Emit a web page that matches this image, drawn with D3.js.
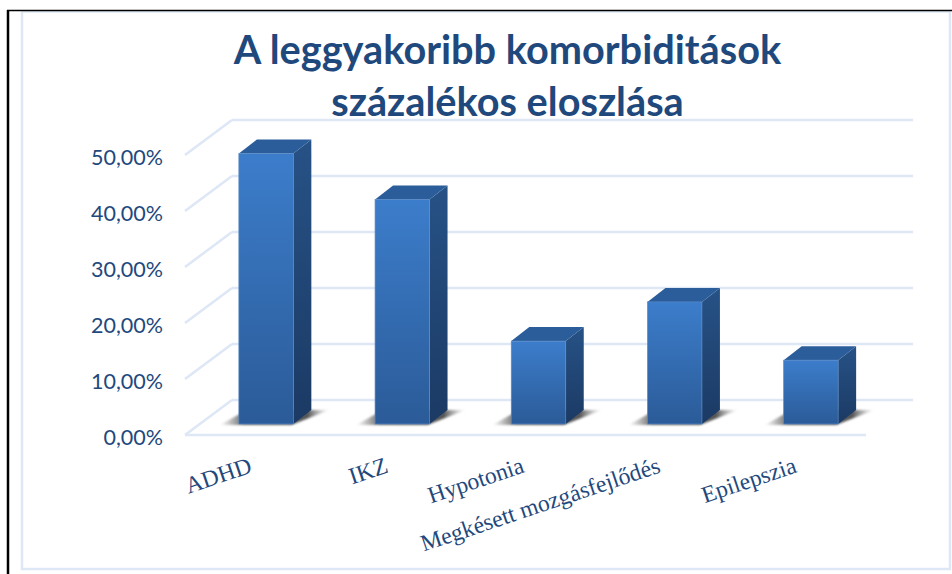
<!DOCTYPE html>
<html>
<head>
<meta charset="utf-8">
<script src="https://cdn.jsdelivr.net/npm/d3@7"></script>
<style>
  html, body { margin: 0; padding: 0; background: #fff; overflow: hidden; }
  svg { display: block; }
</style>
</head>
<body>
<div id="chart"></div>
<script>
const categories = ["ADHD", "IKZ", "Hypotonia", "Megkésett mozgásfejlődés", "Epilepszia"];
const percentages = [48.3, 40.1, 14.8, 21.8, 11.4];
const tick_values = [0, 10, 20, 30, 40, 50];
const title_lines = ["A leggyakoribb komorbiditások", "százalékos eloszlása"];

const width = 952, height = 574;
const text_color = "#1f497d", grid_color = "#dde7f5";
// 3d look: how far the back wall sits from the floor's front edge, and the bars from it
const wall = { dx: 47, dy: -35 };
const bar_shift = { dx: 13, dy: -11 };
const bar_depth = { dx: 18, dy: -14 };

const svg = d3.select("#chart").append("svg").attr("width", width).attr("height", height);

const xScale = d3.scaleBand().domain(categories).range([185, 866]).paddingInner(0.6).paddingOuter(0.3);
const yScale = d3.scaleLinear().domain([0, 50]).range([435, 155]);

const defs = svg.append("defs");
function addGradient(id, top, bottom) {
    const g = defs.append("linearGradient").attr("id", id).attr("x1", 0).attr("y1", 0).attr("x2", 0).attr("y2", 1);
    g.append("stop").attr("offset", "0%").attr("stop-color", top);
    g.append("stop").attr("offset", "100%").attr("stop-color", bottom);
}
addGradient("front", "#3c7dcb", "#2b5b98");
addGradient("side", "#275286", "#1b3a64");
const shadow = defs.append("linearGradient").attr("id", "shadow").attr("x1", 0).attr("y1", 0).attr("x2", 1).attr("y2", 0);
shadow.append("stop").attr("offset", "0%").attr("stop-color", "#777").attr("stop-opacity", 0);
shadow.append("stop").attr("offset", "22%").attr("stop-color", "#666");
shadow.append("stop").attr("offset", "80%").attr("stop-color", "#555");
shadow.append("stop").attr("offset", "100%").attr("stop-color", "#999").attr("stop-opacity", 0);
defs.append("filter").attr("id", "blur").attr("x", "-20%").attr("y", "-50%").attr("width", "140%").attr("height", "200%")
    .append("feGaussianBlur").attr("stdDeviation", 1.2);

// outer frames
svg.append("rect").attr("x", 22).attr("y", 11.5).attr("width", 928).attr("height", 557.5)
    .attr("fill", "#fff").attr("stroke", grid_color).attr("stroke-width", 2.5);
svg.append("line").attr("x1", 8).attr("x2", 8).attr("y1", 10).attr("y2", height).attr("stroke", "#000").attr("stroke-width", 2.5);
svg.append("line").attr("x1", 7).attr("x2", width).attr("y1", 10.5).attr("y2", 10.5).attr("stroke", "#000").attr("stroke-width", 1.5);

// title
svg.append("g").selectAll("text").data(title_lines).enter().append("text")
    .attr("x", 507.5)
    .attr("y", (d, i) => 64 + i * 52)
    .attr("text-anchor", "middle")
    .attr("font-family", "Lato, sans-serif")
    .attr("font-weight", "bold")
    .attr("font-size", 39.7)
    .attr("fill", text_color)
    .text(d => d);

// walls and floor
const grid = svg.append("g").attr("fill", "none").attr("stroke", grid_color).attr("stroke-width", 2.5);
const [x0, x1] = xScale.range();
grid.selectAll(".back").data(tick_values).enter().append("line").attr("class", "back")
    .attr("x1", x0 + wall.dx).attr("x2", x1 + wall.dx)
    .attr("y1", d => yScale(d) + wall.dy).attr("y2", d => yScale(d) + wall.dy);
grid.selectAll(".slant").data(tick_values).enter().append("line").attr("class", "slant")
    .attr("x1", x0).attr("x2", x0 + wall.dx)
    .attr("y1", d => yScale(d)).attr("y2", d => yScale(d) + wall.dy);
grid.append("line").attr("x1", x0).attr("x2", x1).attr("y1", yScale(0)).attr("y2", yScale(0));

// bars
const bars = svg.append("g").selectAll("g").data(categories).enter().append("g");
const bw = xScale.bandwidth();
const left = d => xScale(d) + bar_shift.dx;
const base = bar_shift.dy + yScale(0);
const top_y = (d, i) => yScale(percentages[i]) + bar_shift.dy;

bars.append("path")
    .attr("d", d => `M${left(d) - 19},${base + 1} L${left(d) + 8},${base + bar_depth.dy}
        L${left(d) + bw + bar_depth.dx + 18},${base + bar_depth.dy} L${left(d) + bw - 2},${base + 1} Z`)
    .attr("fill", "url(#shadow)")
    .attr("filter", "url(#blur)");
bars.append("path")
    .attr("d", (d, i) => `M${left(d) + bw},${top_y(d, i)} l${bar_depth.dx},${bar_depth.dy} V${base + bar_depth.dy} L${left(d) + bw},${base} Z`)
    .attr("fill", "url(#side)");
bars.append("path")
    .attr("d", (d, i) => `M${left(d)},${top_y(d, i)} l${bar_depth.dx},${bar_depth.dy} h${bw} l${-bar_depth.dx},${-bar_depth.dy} Z`)
    .attr("fill", "#2b5d9b");
bars.append("rect")
    .attr("x", d => left(d))
    .attr("y", top_y)
    .attr("width", bw)
    .attr("height", (d, i) => base - top_y(d, i))
    .attr("fill", "url(#front)")
    .attr("stroke", "#5a8ac6")
    .attr("stroke-width", 0.7);

// y axis
const yAxis = d3.axisLeft(yScale).tickValues(tick_values).tickSize(0).tickPadding(22)
    .tickFormat(d => d.toFixed(2).replace(".", ",") + "%");
const yGroup = svg.append("g").attr("transform", `translate(${x0},0)`).call(yAxis);
yGroup.select(".domain").remove();
yGroup.selectAll("text")
    .attr("font-family", "Lato, sans-serif")
    .attr("font-size", 21.5)
    .attr("dy", "0.42em")
    .attr("fill", text_color);

// x axis, labels end under the middle of each band
const xAxis = d3.axisBottom(xScale).tickSize(0).tickPadding(0);
const xGroup = svg.append("g").attr("transform", "translate(0,472)").call(xAxis);
xGroup.select(".domain").remove();
xGroup.selectAll("text")
    .attr("font-family", "'Liberation Serif', serif")
    .attr("font-size", 23.6)
    .attr("fill", text_color)
    .attr("text-anchor", "end")
    .attr("dy", 0)
    .attr("y", 0)
    .attr("transform", "rotate(-18.5)");
</script>
</body>
</html>
